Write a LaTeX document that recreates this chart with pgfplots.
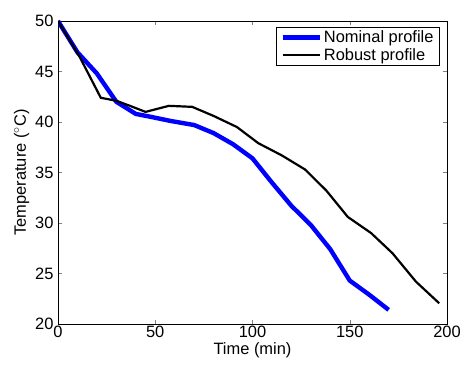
\documentclass[border=0pt]{standalone}
\usepackage{pgfplots}
\pgfplotsset{compat=1.18}
\usepackage{fontspec}
\setmainfont{Liberation Sans}
\begin{document}
\begin{tikzpicture}
\path[use as bounding box] (-58bp,-41bp) rectangle (406bp,324bp);
\begin{axis}[
  at={(0,0)}, anchor=south west,
  scale only axis, width=389bp, height=303bp,
  xmin=0, xmax=200, ymin=20, ymax=50,
  xtick={0,50,...,200}, ytick={20,25,...,50},
  tick align=inside, tick pos=both,
  major tick length=4bp,
  /pgf/number format/assume math mode=true,
  tick label style={font=\fontsize{16.5}{18}\selectfont},
  label style={font=\fontsize{16.5}{18}\selectfont},
  xlabel={Time (min)}, ylabel={Temperature ($^\circ$C)},
  xlabel style={yshift=2bp}, ylabel style={yshift=-1bp},
  xticklabel style={yshift=1.5bp},
  yticklabel style={xshift=-1bp},
  axis line style={line width=0.6pt},
  legend style={at={(0.9815,0.98)}, anchor=north east, draw=black, line width=0.6pt,
    font=\fontsize{16.5}{18}\selectfont, inner sep=1.5pt, row sep=0pt,
    inner xsep=4pt},
  legend cell align=left,
  legend image code/.code={\draw[#1] (0bp,0bp) -- (37bp,0bp);},
]
\addplot[color=blue, line width=4.4bp] coordinates {
(0,50) (10,46.9) (20,44.8) (30,42.0) (40,40.8) (48,40.5) (58,40.1) (70,39.7)
(80,38.9) (90,37.8) (100,36.4) (110,34.0) (120,31.7) (130,29.8) (140,27.4)
(150,24.3) (160,22.9) (170,21.4)};
\addlegendentry{Nominal profile}
\addplot[color=black, line width=2.2bp] coordinates {
(0,50) (11,46.5) (22,42.4) (30,42.1) (37,41.6) (45,41.0) (57,41.6) (69,41.5)
(80,40.6) (92,39.5) (103,37.9) (115,36.7) (127,35.3) (138,33.2) (149,30.6)
(161,29.0) (172,27.0) (184,24.2) (196,22.05)};
\addlegendentry{Robust profile}
\end{axis}
\end{tikzpicture}
\end{document}
